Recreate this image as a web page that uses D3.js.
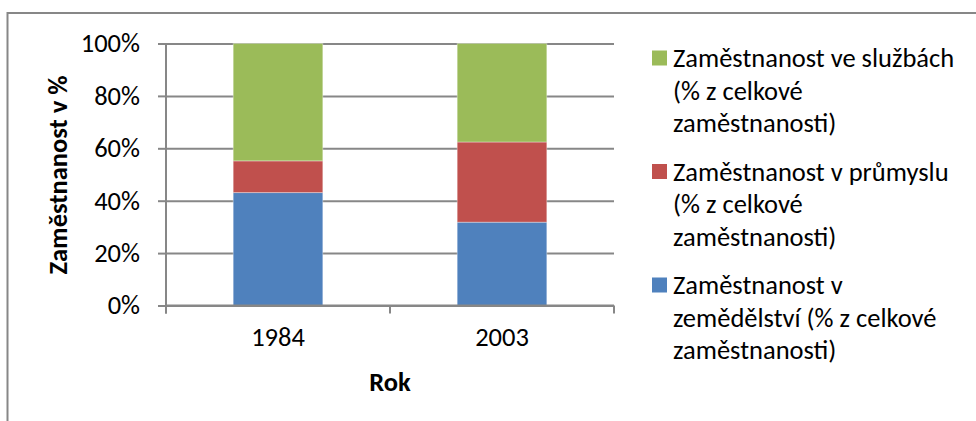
<!DOCTYPE html>
<html>
<head>
<meta charset="utf-8">
<script src="https://cdn.jsdelivr.net/npm/d3@7"></script>
<style>
body { margin: 0; background: #fff; }
text { font-family: Carlito, Lato, sans-serif; fill: #000; }
</style>
</head>
<body>
<svg id="chart" width="976" height="421"></svg>
<script>
// values (share of total employment, %)
var years = ["1984", "2003"];
var agriculture = [43.1, 31.8];
var industry = [12.1, 30.6];
var services = [44.8, 37.6];

var seriesKeys = ["agriculture", "industry", "services"];
var seriesColors = ["#4F81BD", "#C0504D", "#9BBB59"];
// legend lines, wrapped as in the original
var seriesLabels = [
	["Zaměstnanost v", "zemědělství (% z celkové", "zaměstnanosti)"],
	["Zaměstnanost v průmyslu", "(% z celkové", "zaměstnanosti)"],
	["Zaměstnanost ve službách", "(% z celkové", "zaměstnanosti)"]
];
var yTicks = [0, 0.2, 0.4, 0.6, 0.8, 1];

var fontSize = 26.5;
var svg = d3.select("#chart");

// frame of the chart area
svg.append("rect")
	.attr("x", 7.5).attr("y", 13)
	.attr("width", 1200).attr("height", 800)
	.attr("fill", "none")
	.attr("stroke", "#878787")
	.attr("stroke-width", 2);

var plotLeft = 166, plotRight = 614, plotTop = 43.5, plotBottom = 305.5;

var x = d3.scaleBand().domain(years).range([plotLeft, plotRight])
	.paddingInner(0.6).paddingOuter(0.3);
var y = d3.scaleLinear().domain([0, 1]).range([plotBottom, plotTop]);

var table = years.map(function(yr, i) {
	return {year: yr, agriculture: agriculture[i], industry: industry[i], services: services[i]};
});
var stack = d3.stack().keys(seriesKeys).offset(d3.stackOffsetExpand);
var layers = stack(table);

// gridlines
svg.append("g")
	.attr("class", "grid")
	.attr("transform", "translate(" + plotLeft + ",0)")
	.call(d3.axisLeft(y).tickValues(yTicks).tickSize(-(plotRight - plotLeft)).tickFormat(""))
	.call(function(g) { g.select(".domain").remove(); })
	.selectAll("line")
	.attr("stroke", "#878787")
	.attr("stroke-width", 2);

// y axis with labels
var yAxis = svg.append("g")
	.attr("transform", "translate(" + plotLeft + ",0)")
	.call(d3.axisLeft(y).tickValues(yTicks).tickSize(8).tickPadding(18)
		.tickFormat(d3.format(".0%")));
yAxis.select(".domain").attr("stroke", "#878787").attr("stroke-width", 2)
	.attr("d", "M0," + (plotBottom + 8) + "V" + plotTop);
yAxis.selectAll("line").attr("stroke", "#878787").attr("stroke-width", 2);
yAxis.selectAll("text").attr("font-size", fontSize).attr("fill", "#000")
	.attr("font-family", "Carlito, Lato, sans-serif");

// bars
svg.append("g").selectAll("g")
	.data(layers)
	.enter()
	.append("g")
	.attr("fill", function(d, i) { return seriesColors[i]; })
	.selectAll("rect")
	.data(function(d) { return d; })
	.enter()
	.append("rect")
	.attr("x", function(d) { return x(d.data.year); })
	.attr("y", function(d) { return y(d[1]); })
	.attr("width", x.bandwidth())
	.attr("height", function(d) { return y(d[0]) - y(d[1]); })
	.attr("stroke", "#ffffff")
	.attr("stroke-opacity", 0.35)
	.attr("stroke-width", 1);

// x axis: baseline and ticks between categories
var bounds = d3.range(years.length + 1).map(function(i) {
	return plotLeft + i * (plotRight - plotLeft) / years.length;
});
svg.append("line")
	.attr("x1", plotLeft).attr("x2", plotRight)
	.attr("y1", plotBottom).attr("y2", plotBottom)
	.attr("stroke", "#878787").attr("stroke-width", 2);
svg.append("g").selectAll("line")
	.data(bounds)
	.enter()
	.append("line")
	.attr("x1", function(d) { return d; })
	.attr("x2", function(d) { return d; })
	.attr("y1", plotBottom).attr("y2", plotBottom + 8)
	.attr("stroke", "#878787").attr("stroke-width", 2);

var xAxis = svg.append("g")
	.attr("transform", "translate(0," + plotBottom + ")")
	.call(d3.axisBottom(x).tickSize(0).tickPadding(22));
xAxis.select(".domain").remove();
xAxis.selectAll("text").attr("font-size", fontSize).attr("fill", "#000")
	.attr("font-family", "Carlito, Lato, sans-serif");

// axis titles
svg.append("text")
	.attr("x", (plotLeft + plotRight) / 2).attr("y", 382)
	.attr("text-anchor", "middle")
	.attr("dominant-baseline", "central")
	.attr("font-size", fontSize).attr("font-weight", "bold")
	.text("Rok");

svg.append("text")
	.attr("transform", "translate(58,175) rotate(-90)")
	.attr("text-anchor", "middle")
	.attr("dominant-baseline", "central")
	.attr("font-size", fontSize).attr("font-weight", "bold")
	.text("Zaměstnanost v %");

// legend, top entry is the top series
var legend = svg.append("g").attr("transform", "translate(652,58)");
var order = [2, 1, 0];
var items = legend.selectAll("g")
	.data(order)
	.enter()
	.append("g")
	.attr("transform", function(d, i) { return "translate(0," + (i * 113.5) + ")"; });
items.append("rect")
	.attr("x", 0).attr("y", -7.5)
	.attr("width", 15).attr("height", 15)
	.attr("fill", function(d) { return seriesColors[d]; });
items.append("text")
	.attr("font-size", fontSize)
	.selectAll("tspan")
	.data(function(d) { return seriesLabels[d]; })
	.enter()
	.append("tspan")
	.attr("x", 21)
	.attr("y", function(d, i) { return i * 32.5; })
	.attr("dominant-baseline", "central")
	.text(function(d) { return d; });
</script>
</body>
</html>
